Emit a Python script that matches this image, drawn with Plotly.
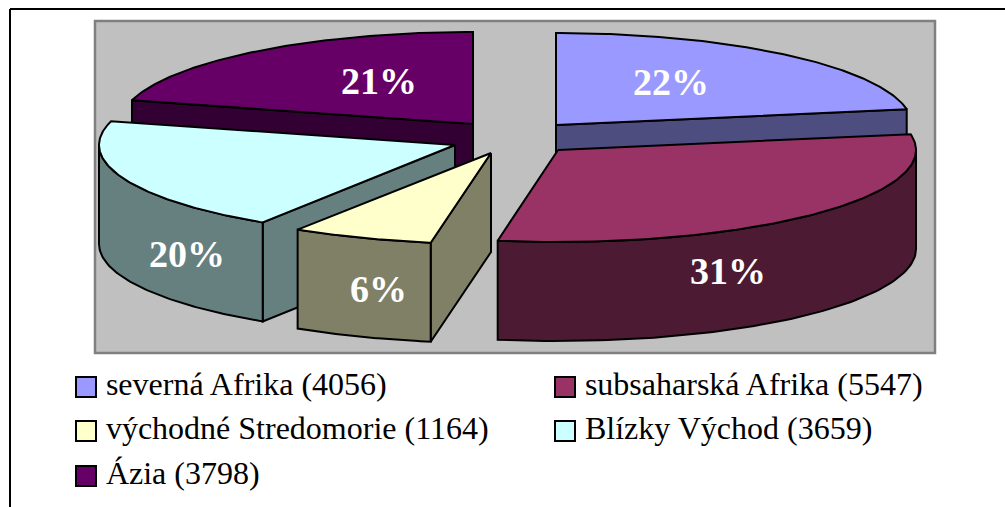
import numpy as np
import plotly.graph_objects as go

categories = ["severná Afrika", "subsaharská Afrika", "východné Stredomorie", "Blízky Východ", "Ázia"]
values = [4056, 5547, 1164, 3659, 3798]
pct_labels = ["22%", "31%", "6%", "20%", "21%"]
top_colors = ["#9999FF", "#993366", "#FFFFCC", "#CCFFFF", "#660066"]
side_colors = ["#4D4D80", "#4D1A33", "#808066", "#668080", "#330033"]

# exploded-pie styling, one entry per slice (apex position and radius in page pixels)
apex_x = [556, 558, 491, 455, 473]
apex_y = [125, 150, 153, 145, 124]
radius_x = [356, 358, 358, 356, 353]
radius_y = [92, 92, 91, 92, 92]
depth = 99
label_x = [671, 728, 378, 187, 379]
label_y = [82, 271, 289, 254, 81]
draw_order = [4, 0, 3, 2, 1]

fig = go.Figure()


def poly(xs, ys, color):
    fig.add_trace(go.Scatter(
        x=list(xs) + [xs[0]], y=list(ys) + [ys[0]], mode="lines", fill="toself",
        fillcolor=color, line=dict(color="black", width=2),
        hoverinfo="skip", showlegend=False))


shares = np.array(values) / sum(values) * 2 * np.pi
ends = np.cumsum(shares)
starts = ends - shares

for i in draw_order:
    cx, cy, a, b = apex_x[i], apex_y[i], radius_x[i], radius_y[i]
    th0, th1 = starts[i], ends[i]

    def pt(t):
        return cx + a * np.sin(t), cy - b * np.cos(t)

    # cut faces
    if np.sin(th0) < -1e-6:
        ex, ey = pt(th0)
        poly([cx, ex, ex, cx], [cy, ey, ey + depth, cy + depth], side_colors[i])
    if np.sin(th1) > 1e-6:
        ex, ey = pt(th1)
        poly([cx, ex, ex, cx], [cy, ey, ey + depth, cy + depth], side_colors[i])
    # outer rim (front half only)
    r0, r1 = max(th0, np.pi / 2), min(th1, 3 * np.pi / 2)
    if r1 > r0:
        t = np.linspace(r0, r1, 80)
        rx, ry = pt(t)
        poly(np.r_[rx, rx[::-1]], np.r_[ry, ry[::-1] + depth], side_colors[i])
    # top face
    t = np.linspace(th0, th1, 120)
    tx, ty = pt(t)
    poly(np.r_[cx, tx], np.r_[cy, ty], top_colors[i])

for i in range(5):
    fig.add_annotation(x=label_x[i], y=label_y[i], text=pct_labels[i], showarrow=False,
                       font=dict(family="Liberation Serif", size=38, color="white", weight="bold"))

# legend rows, two columns
legend_col_x = [86, 565]
legend_row_y = [387, 431, 476]
for i, (name, v) in enumerate(zip(categories, values)):
    fig.add_trace(go.Scatter(
        x=[legend_col_x[i % 2]], y=[legend_row_y[i // 2]], mode="markers+text",
        marker=dict(symbol="square", size=20, color=top_colors[i], line=dict(color="black", width=2)),
        text=[f"\u2009{name} ({v})"], textposition="middle right",
        textfont=dict(family="Liberation Serif", size=32, color="black"),
        hoverinfo="skip", showlegend=False))

fig.update_layout(
    width=1005, height=507, margin=dict(l=0, r=0, t=0, b=0),
    paper_bgcolor="white", plot_bgcolor="white", showlegend=False,
    xaxis=dict(range=[0, 1005], visible=False, fixedrange=True),
    yaxis=dict(range=[507, 0], visible=False, fixedrange=True),
    shapes=[
        dict(type="rect", x0=95, x1=935, y0=21, y1=353, layer="below",
             fillcolor="#C0C0C0", line=dict(color="#808080", width=2.5)),
        dict(type="line", x0=10, x1=1005, y0=9, y1=9, line=dict(color="black", width=2)),
        dict(type="line", x0=10, x1=10, y0=9, y1=507, line=dict(color="black", width=2)),
    ],
)
fig.write_html("out.html", config={"displayModeBar": False},
               post_script="document.body.style.margin='0';document.body.style.overflow='hidden';")
